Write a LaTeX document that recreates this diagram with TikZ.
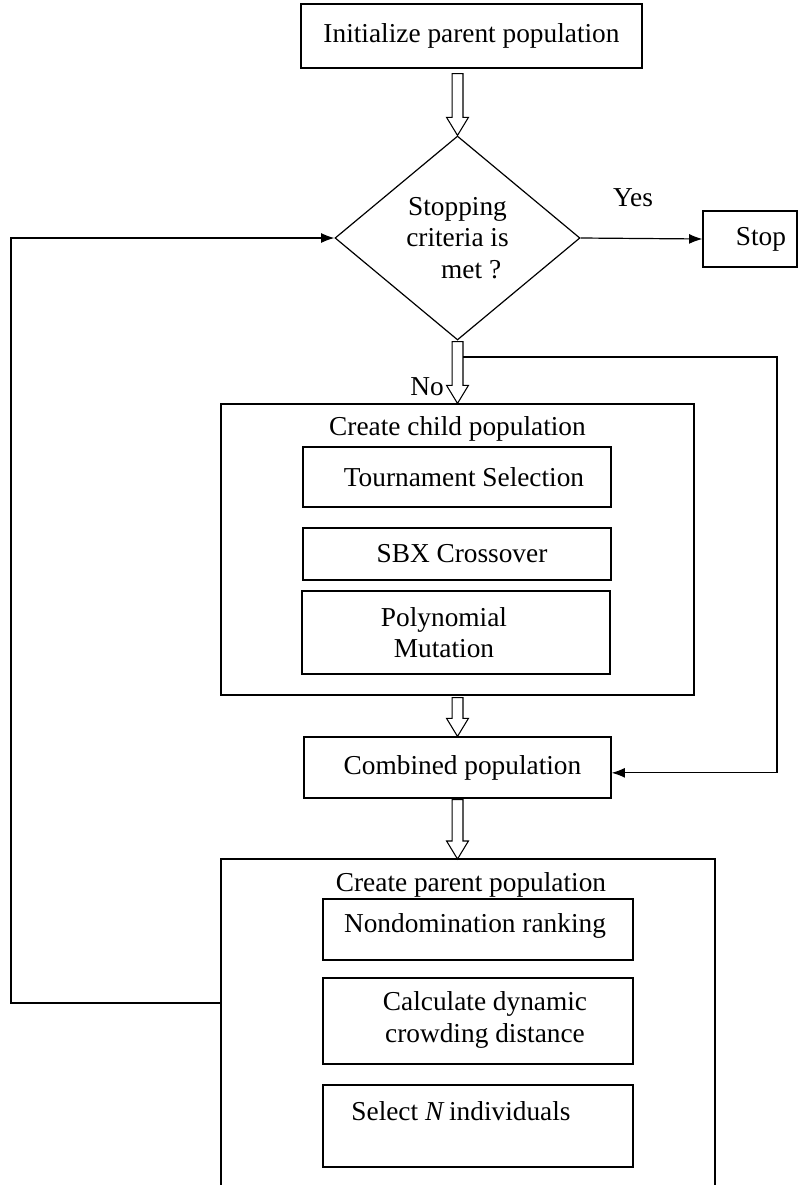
\documentclass[tikz,border=0pt]{standalone}
\usepackage{fontspec}
\setmainfont{Liberation Serif}
\usetikzlibrary{shapes.geometric,arrows.meta,calc}
\newdimen\pxu \pxu=0.75pt
\newcommand\hollowarr[2]{%
  \draw[hol] let \p1=(#1), \p2=(#2) in
    (\x2-4.1pt,\y1) -- (\x2-4.1pt,\y2+13.5pt) -- (\x2-8.2pt,\y2+13.5pt) -- (\x2,\y2)
    -- (\x2+8.2pt,\y2+13.5pt) -- (\x2+4.1pt,\y2+13.5pt) -- (\x2+4.1pt,\y1) -- cycle;}
\begin{document}
\begin{tikzpicture}[x=0.75pt,y=-0.75pt,
  every node/.style={font=\fontsize{20.5}{23.5}\selectfont},
  box/.style={draw,line width=0.9pt,inner sep=0pt,align=center},
  dia/.style={draw,line width=0.9pt,diamond,inner sep=0pt,minimum width=245\pxu,minimum height=204\pxu},
  txt/.style={inner sep=0pt,align=center},
  conn/.style={line width=0.9pt},
  arr/.style={line width=0.9pt,-{Latex[length=10pt,width=7.5pt]}},
  hol/.style={line width=0.8pt,fill=white}]
\useasboundingbox (0,0) rectangle (801,1185);
% boxes
\node[box,minimum width=341\pxu,minimum height=64\pxu] (init) at (471.5,36) {Initialize parent population};
\node[dia] (dia) at (457.5,238) {};
\node[txt] at (dia.center) {Stopping\\criteria is\\\hspace*{1em}met ?};
\node[box,minimum width=94\pxu,minimum height=56\pxu] (stop) at (750,239) {};
\node[txt] at ($(stop.center)+(11,0)$) {Stop};
\node[txt] at (633,198) {Yes};
\node[txt] at (427,387) {No};
\node[box,minimum width=473\pxu,minimum height=291\pxu] (child) at (457.5,549.5) {};
\node[txt] at ($(child.north)+(0,26)$) {Create child population};
\node[box,minimum width=308\pxu,minimum height=60\pxu] (tour) at (457,477) {\hspace*{14\pxu}Tournament Selection};
\node[box,minimum width=308\pxu,minimum height=52\pxu] (sbx) at (457,554) {\hspace*{10\pxu}SBX Crossover};
\node[box,minimum width=308\pxu,minimum height=83\pxu] (poly) at (456,632.5) {};
\node[txt] at ($(poly.center)+(-12,0)$) {Polynomial\\Mutation};
\node[box,minimum width=307\pxu,minimum height=61\pxu] (comb) at (457.5,767.5) {\hspace*{10\pxu}Combined population};
% parent population box (open at the bottom)
\coordinate (pbtop) at (457.5,859);
\coordinate (pbTL) at (221,859);
\coordinate (pbTR) at (715,859);
\coordinate (pbBL) at (221,1186);
\coordinate (pbBR) at (715,1186);
\draw[conn] (pbBL) -- (pbTL) -- (pbTR) -- (pbBR);
\node[txt] at (471,885) {Create parent population};
\node[box,minimum width=310\pxu,minimum height=61\pxu] (nond) at (478,929.5) {};
\node[txt] at ($(nond.center)+(-3,-4)$) {Nondomination ranking};
\node[box,minimum width=310\pxu,minimum height=86\pxu] (calc) at (478,1021) {};
\node[txt] at ($(calc.center)+(7,-1)$) {Calculate dynamic\\crowding distance};
\node[box,minimum width=310\pxu,minimum height=82\pxu] (sel) at (478,1126) {};
\node[txt] at ($(sel.center)+(-17,-15)$) {Select \textit{N}\,individuals};
% hollow arrows
\hollowarr{$(init.south)+(0,5)$}{dia.north}
\hollowarr{$(dia.south)+(0,1)$}{child.north}
\hollowarr{$(child.south)+(0,2)$}{comb.north}
\hollowarr{$(comb.south)+(0,1)$}{pbtop}
% connectors
\draw[arr] (dia.east) -- (stop.west);
\coordinate (pbL) at (221,1003);
\coordinate (loopL) at (11,1003);
\draw[arr] (pbL) -- (loopL) |- (dia.west);
\coordinate (nostart) at (463,357);
\coordinate (rtop) at (777,357);
\draw[arr] (nostart) -- (rtop) |- ([yshift=-4pt]comb.east);
\end{tikzpicture}
\end{document}
